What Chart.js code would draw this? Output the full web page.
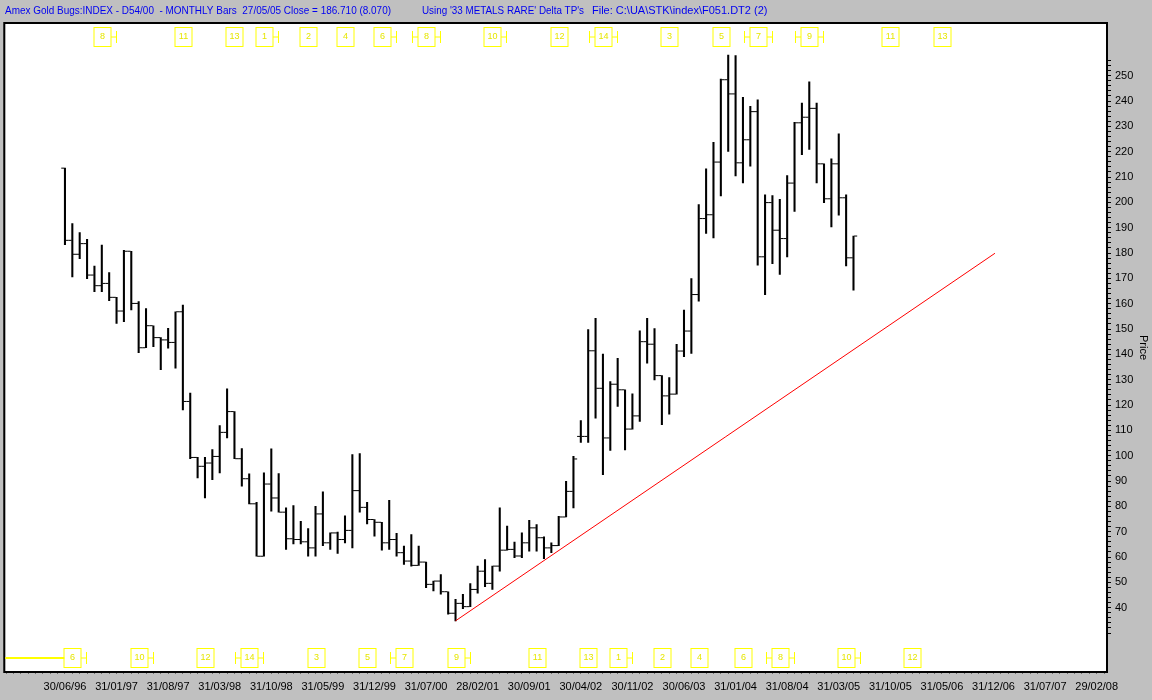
<!DOCTYPE html>
<html>
<head>
<meta charset="utf-8">
<title>Amex Gold Bugs INDEX - Monthly Bars</title>
<script src="https://cdn.jsdelivr.net/npm/chart.js@4.4.0/dist/chart.umd.min.js"></script>
<style>
  html, body { margin: 0; padding: 0; background: #c0c0c0; }
  #wrap { width: 1152px; height: 700px; }
</style>
</head>
<body>
<div id="wrap"><canvas id="myChart" width="1152" height="700"></canvas></div>
<script>
// monthly bars, index 0 = June 1996 ... index 107 = May 2005
var opens = [213.5,185.0,179.5,183.7,171.3,167.1,168.0,162.5,157.1,180.7,
  160.1,142.6,151.3,146.6,145.7,144.7,156.8,121.4,99.3,95.8,
  97.1,99.7,109.2,117.4,98.8,90.9,81.0,60.3,88.8,83.3,
  77.7,67.2,66.9,66.0,63.6,77.0,65.6,69.5,66.9,70.5,
  86.2,79.6,74.8,73.7,65.6,66.9,61.7,58.4,56.7,58.0,
  49.2,50.5,46.3,37.8,41.7,40.4,47.2,54.4,49.6,56.4,
  62.7,63.0,60.4,65.6,71.5,67.6,63.6,64.5,75.8,85.9,
  107.6,107.6,141.4,126.6,107.0,128.2,126.0,110.5,115.7,145.0,
  144.0,131.6,123.6,124.3,141.3,149.2,163.6,193.6,195.1,215.9,
  248.4,242.8,215.6,224.7,235.8,178.5,199.9,189.0,185.7,207.6,
  231.4,233.6,237.1,215.2,201.4,215.2,201.8,178.1];

var highs = [213.5,191.6,188.1,185.4,174.8,183.1,172.3,162.5,181.1,180.7,
  160.8,158.1,151.3,146.6,150.3,156.8,159.4,124.7,99.3,99.3,
  102.4,111.9,126.4,117.4,102.8,92.8,81.6,93.2,102.7,92.9,
  79.4,80.3,74.1,71.2,80.0,85.7,69.5,69.8,76.3,100.4,
  100.8,81.6,74.8,73.7,82.4,69.3,64.3,68.9,64.3,58.0,
  50.5,53.1,46.3,43.3,45.3,49.5,56.4,59.0,56.4,79.4,
  72.2,65.9,69.5,74.5,72.8,68.0,65.6,76.1,89.9,99.7,
  113.9,149.8,154.2,140.1,129.2,138.4,126.0,124.4,149.3,154.2,
  150.2,131.6,130.8,144.0,157.5,169.9,199.1,213.2,223.7,248.7,
  258.1,257.9,241.5,237.9,240.5,203.0,202.7,201.2,210.6,231.6,
  239.2,247.6,239.2,215.2,217.2,227.0,203.0,186.7];

var lows = [183.3,170.6,177.8,169.9,164.7,164.7,161.2,152.2,152.9,157.5,
  140.7,142.6,143.0,133.9,142.4,134.5,118.1,98.8,91.2,83.3,
  90.5,93.2,107.0,98.8,88.0,81.0,60.3,60.3,78.1,77.7,
  63.0,65.2,65.2,60.3,60.3,64.5,63.0,61.4,65.6,63.6,
  77.7,73.1,68.2,62.7,63.0,60.3,57.1,56.4,56.7,47.9,
  46.6,45.3,37.4,34.8,39.6,40.4,45.7,48.3,47.2,54.4,
  62.7,59.7,59.7,62.3,62.3,59.3,61.7,64.5,75.8,79.4,
  105.2,105.2,114.8,92.5,102.1,119.4,102.3,110.5,113.5,136.5,
  129.9,112.2,116.4,124.3,139.1,140.4,161.0,187.7,186.0,202.5,
  220.1,210.4,207.7,214.3,175.2,163.6,175.8,171.5,178.5,196.4,
  218.8,220.9,207.7,199.9,190.3,194.9,174.9,165.3];

var closes = [185.0,179.5,183.7,171.3,167.1,168.0,162.5,157.1,180.7,160.1,
  142.6,151.3,146.6,145.7,144.7,156.8,121.4,99.3,95.8,97.1,
  99.7,109.2,117.4,98.8,90.9,81.0,60.3,88.8,83.3,77.7,
  67.2,66.9,66.0,63.6,77.0,65.6,69.5,66.9,70.5,86.2,
  79.6,74.8,73.7,65.6,66.9,61.7,58.4,56.7,58.0,49.2,
  50.5,46.3,37.8,41.7,40.4,47.2,54.4,49.6,56.4,62.7,
  63.0,60.4,65.6,71.5,67.6,63.6,64.5,75.8,85.9,98.7,
  107.6,141.4,126.6,107.0,128.2,126.0,110.5,115.7,145.0,144.0,
  131.6,123.6,124.3,141.3,149.2,163.6,193.6,195.1,215.9,248.4,
  242.8,215.6,224.7,235.8,178.5,199.9,189.0,185.7,207.6,231.4,
  233.6,237.1,215.2,201.4,215.2,201.8,178.1,186.7];

// date labels, one every 7 months starting at index 0
var dateLabels = ['30/06/96','31/01/97','31/08/97','31/03/98','31/10/98','31/05/99',
  '31/12/99','31/07/00','28/02/01','30/09/01','30/04/02','30/11/02','30/06/03',
  '31/01/04','31/08/04','31/03/05','31/10/05','31/05/06','31/12/06','31/07/07','29/02/08'];
var labelStep = 7;

// red trend line (month index / price)
var trendX = [53, 126.2];
var trendY = [34.8, 179.9];

// yellow cycle counts, top and bottom rows (month index)
var topMarks = ['8','11','13','1','2','4','6','8','10','12','14','3','5','7','9','11','13'];
var topMarkAt = [5, 16, 23, 27, 33, 38, 43, 49, 58, 67, 73, 82, 89, 94, 101, 112, 119];
var topMarkEnds = ['r','','','r','','','r','lr','r','','lr','','','lr','lr','',''];

var bottomMarks = ['6','10','12','14','3','5','7','9','11','13','1','2','4','6','8','10','12'];
var bottomMarkAt = [1, 10, 19, 25, 34, 41, 46, 53, 64, 71, 75, 81, 86, 92, 97, 106, 115];
var bottomMarkEnds = ['r','r','','lr','','','l','r','','','r','','','','lr','r',''];

var FONT = 'Liberation Sans, Arial, sans-serif';

function markRow(ctx, xs, labels, at, ends, yc) {
  ctx.strokeStyle = '#ffff00';
  ctx.fillStyle = '#e6e600';
  ctx.lineWidth = 1;
  ctx.font = '9px ' + FONT;
  ctx.textAlign = 'center';
  ctx.textBaseline = 'middle';
  for (var k = 0; k < labels.length; k++) {
    var x = Math.round(xs.getPixelForValue(at[k])) + 0.5;
    ctx.strokeRect(x - 8.5, yc - 9.5, 17, 19);
    ctx.fillText(labels[k], x, yc);
    ctx.beginPath();
    if (ends[k].indexOf('r') >= 0) {
      ctx.moveTo(x + 8.5, yc); ctx.lineTo(x + 14, yc);
      ctx.moveTo(x + 14, yc - 6); ctx.lineTo(x + 14, yc + 6);
    }
    if (ends[k].indexOf('l') >= 0) {
      ctx.moveTo(x - 8.5, yc); ctx.lineTo(x - 14, yc);
      ctx.moveTo(x - 14, yc - 6); ctx.lineTo(x - 14, yc + 6);
    }
    ctx.stroke();
  }
}

// background, frame, header text and the yellow markers
var decor = {
  id: 'decor',
  beforeDraw: function(chart) {
    var ctx = chart.ctx, a = chart.chartArea;
    ctx.save();
    ctx.fillStyle = '#c0c0c0';
    ctx.fillRect(0, 0, chart.width, chart.height);
    ctx.fillStyle = '#ffffff';
    ctx.fillRect(a.left, a.top, a.right - a.left, a.bottom - a.top);
    ctx.restore();
  },
  afterDraw: function(chart) {
    var ctx = chart.ctx, a = chart.chartArea;
    var xs = chart.scales.x, ys = chart.scales.y;
    ctx.save();
    // frame
    ctx.strokeStyle = '#000';
    ctx.lineWidth = 2;
    ctx.strokeRect(a.left - 1, a.top - 1, a.right - a.left + 1, a.bottom - a.top + 2);
    // bold price axis
    ctx.beginPath();
    ctx.moveTo(a.right, ys.getPixelForValue(256));
    ctx.lineTo(a.right, ys.getPixelForValue(30));
    ctx.stroke();
    // header
    ctx.fillStyle = '#0000f0';
    ctx.font = '11px ' + FONT;
    ctx.textBaseline = 'middle';
    ctx.textAlign = 'left';
    ctx.fillText('Amex Gold Bugs:INDEX - D54/00  - MONTHLY Bars  27/05/05 Close = 186.710 (8.070)', 5, 11, 386);
    ctx.fillText("Using '33 METALS RARE' Delta TP's", 422, 11, 162);
    ctx.fillText('File: C:\\UA\\STK\\index\\F051.DT2 (2)', 592, 11, 203);
    // cycle markers
    markRow(ctx, xs, topMarks, topMarkAt, topMarkEnds, a.top + 13);
    markRow(ctx, xs, bottomMarks, bottomMarkAt, bottomMarkEnds, a.bottom - 13);
    ctx.strokeStyle = '#ffff00';
    ctx.lineWidth = 2;
    ctx.beginPath();
    ctx.moveTo(a.left, a.bottom - 13);
    ctx.lineTo(xs.getPixelForValue(bottomMarkAt[0]) - 8, a.bottom - 13);
    ctx.stroke();
    ctx.restore();
  }
};

var hl = [], op = [], cl = [];
for (var i = 0; i < opens.length; i++) {
  hl.push({x: i, y: [lows[i], highs[i]]});
  op.push({x: i - 0.3, y: opens[i]});
  cl.push({x: i + 0.3, y: closes[i]});
}

var graph = document.getElementById('myChart');

var myChart = new Chart(graph, {
  type: 'bar',
  data: {
    datasets: [{
      type: 'line',
      data: trendX.map(function(x, k) { return {x: x, y: trendY[k]}; }),
      borderColor: '#ff0000',
      borderWidth: 1,
      pointRadius: 0,
      tension: 0
    }, {
      type: 'bar',
      data: hl,
      backgroundColor: '#000',
      borderWidth: 0,
      barThickness: 1.4,
      grouped: false
    }, {
      type: 'scatter',
      data: op,
      pointStyle: 'line',
      pointRadius: 1.5,
      pointBorderWidth: 1,
      pointBorderColor: '#000'
    }, {
      type: 'scatter',
      data: cl,
      pointStyle: 'line',
      pointRadius: 1.5,
      pointBorderWidth: 1,
      pointBorderColor: '#000'
    }]
  }, //ends data
  options: {
    responsive: false,
    animation: false,
    layout: { padding: { left: 3, top: 24, right: 0, bottom: 0 } },
    plugins: { legend: { display: false }, tooltip: { enabled: false } },
    scales: {
      x: {
        type: 'linear',
        offset: false,
        min: -8.1,
        max: 141.4,
        afterBuildTicks: function(s) {
          var t = [];
          for (var m = -8; m <= 141; m++) t.push({value: m});
          s.ticks = t;
        },
        ticks: {
          autoSkip: false, maxRotation: 0, minRotation: 0, padding: 6,
          color: '#000', font: { family: FONT, size: 11 },
          callback: function(v) {
            return (v >= 0 && v % labelStep === 0) ? dateLabels[v / labelStep] : '';
          }
        },
        grid: { drawOnChartArea: false, offset: false, tickLength: 3, color: '#707070' },
        border: { display: false },
        afterFit: function(s) { s.height = 29; }
      },
      y: {
        position: 'right',
        min: 15,
        max: 270.4,
        afterBuildTicks: function(s) {
          var t = [];
          for (var v = 30; v <= 256; v += 2) t.push({value: v});
          s.ticks = t;
        },
        ticks: {
          autoSkip: false, padding: 4,
          color: '#000', font: { family: FONT, size: 11 },
          callback: function(v) {
            return (v % 10 === 0 && v >= 40 && v <= 250) ? v : '';
          }
        },
        grid: { drawOnChartArea: false, tickLength: 4, color: '#000' },
        border: { display: false },
        title: { display: true, text: 'Price', color: '#000', font: { family: FONT, size: 11 }, padding: { top: 2, bottom: 4 } },
        afterFit: function(s) { s.width = 45; }
      }
    }
  },
  plugins: [decor]
}); // ends the entire variable
</script>
</body>
</html>
